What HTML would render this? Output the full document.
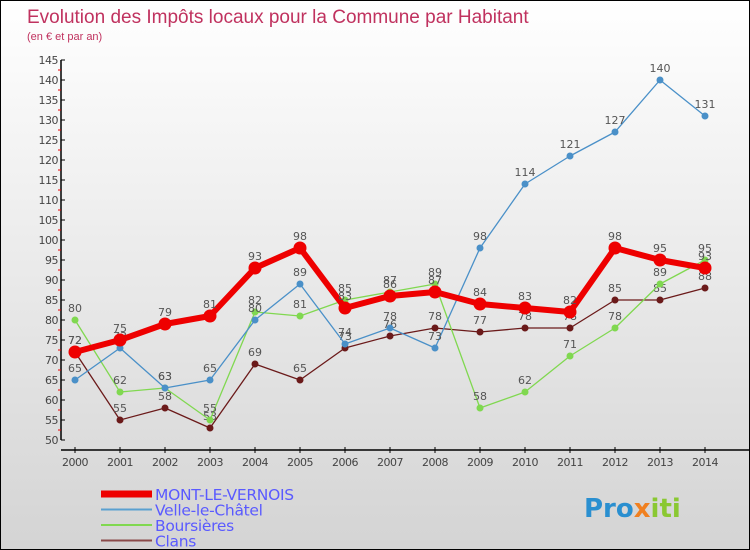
<!DOCTYPE html>
<html><head><meta charset="utf-8"><style>
body{margin:0}
#c{width:748px;height:548px;border:1px solid #000;background:linear-gradient(#fff,#d4d4d4);position:relative;font-family:"DejaVu Sans","Liberation Sans",sans-serif;overflow:hidden}
svg text{font-family:"DejaVu Sans","Liberation Sans",sans-serif}
</style></head><body>
<div id="c">
<svg id="s" width="748" height="548">
<text x="26" y="22" font-size="19" fill="#c0325f" style="font-family:'Liberation Sans',sans-serif">Evolution des Impôts locaux pour la Commune par Habitant</text>
<text x="26" y="39" font-size="11" fill="#c0325f" style="font-family:'Liberation Sans',sans-serif">(en € et par an)</text>
<g id="axes"></g><g id="series"></g><g id="legend"></g>
<text x="583" y="516" font-size="26" font-weight="bold" fill="#2a8fd0">Pro<tspan fill="#f08020">x</tspan><tspan fill="#8ac832">iti</tspan></text>
</svg></div>
<script>
const years=[2000,2001,2002,2003,2004,2005,2006,2007,2008,2009,2010,2011,2012,2013,2014];
const mont=[72,75,79,81,93,98,83,86,87,84,83,82,98,95,93];
const velle=[65,73,63,65,80,89,74,78,73,98,114,121,127,140,131];
const bours=[80,62,63,55,82,81,85,87,89,58,62,71,78,89,95];
const clans=[72,55,58,53,69,65,73,76,78,77,78,78,85,85,88];
const yTicks=[50,55,60,65,70,75,80,85,90,95,100,105,110,115,120,125,130,135,140,145];
const NS="http://www.w3.org/2000/svg";
const X=i=>74+i*45, Y=v=>439-(v-50)*4;
function el(t,a,p){const e=document.createElementNS(NS,t);for(const k in a)e.setAttribute(k,a[k]);p.appendChild(e);return e;}
const ax=document.getElementById('axes');
let l=el('line',{x1:60,y1:Y(145),x2:60,y2:Y(50),stroke:'#000','stroke-width':1.5},ax);


l=el('line',{x1:60,y1:449,x2:748,y2:449,stroke:'#000','stroke-width':1.5},ax);


yTicks.forEach(v=>{
 el('line',{x1:60,y1:Y(v),x2:64,y2:Y(v),stroke:'#000'},ax);
 if(v<145)el('line',{x1:57,y1:Y(v+2.5),x2:60,y2:Y(v+2.5),stroke:'#e00'},ax);
 const t=el('text',{x:57,y:Y(v)+4,'font-size':11,fill:'#444','text-anchor':'end','letter-spacing':'-0.5'},ax);t.textContent=v;
 
 
});
years.forEach((yr,i)=>{
 el('line',{x1:X(i),y1:446,x2:X(i),y2:452,stroke:'#000'},ax);
 const t=el('text',{x:X(i),y:465,'font-size':11,fill:'#444','text-anchor':'middle','letter-spacing':'-0.5'},ax);t.textContent=yr;
 
 
});
const sg=document.getElementById('series');
function draw(d,color,w,r,name){
 const g=el('g',{},sg);
 
 
 el('polyline',{points:d.map((v,i)=>X(i)+','+Y(v)).join(' '),fill:'none',stroke:color,'stroke-width':w,'stroke-linejoin':'round'},g);
 d.forEach((v,i)=>{
  const c=el('circle',{cx:X(i),cy:Y(v),r:r,fill:color},g);
  
  
  const t=el('text',{x:X(i),y:Y(v)-8,'font-size':11,fill:'#555','text-anchor':'middle'},g);t.textContent=v;
 });
}
draw(clans,'#6b1a1a',1.3,3.5,'series-clans');
draw(bours,'#80d850',1.3,3.5,'series-boursieres');
draw(velle,'#4a90c8',1.3,3.5,'series-velle');
draw(mont,'#ee0000',6,6.5,'series-mont-le-vernois');
const lg=document.getElementById('legend');
[['MONT-LE-VERNOIS','#ee0000',7],['Velle-le-Châtel','#5aa0d0',2],['Boursières','#80d850',2],['Clans','#8a4a4a',2]].forEach((e,i)=>{
 const y=493+i*15.5;
 const g=el('g',{},lg);
 
 
 el('line',{x1:100,y1:y,x2:151,y2:y,stroke:e[1],'stroke-width':e[2]},g);
 const t=el('text',{x:154,y:y+6,'font-size':15.5,fill:'#5a5aff','letter-spacing':'-0.3'},g);t.textContent=e[0];
});
</script>
</body></html>
